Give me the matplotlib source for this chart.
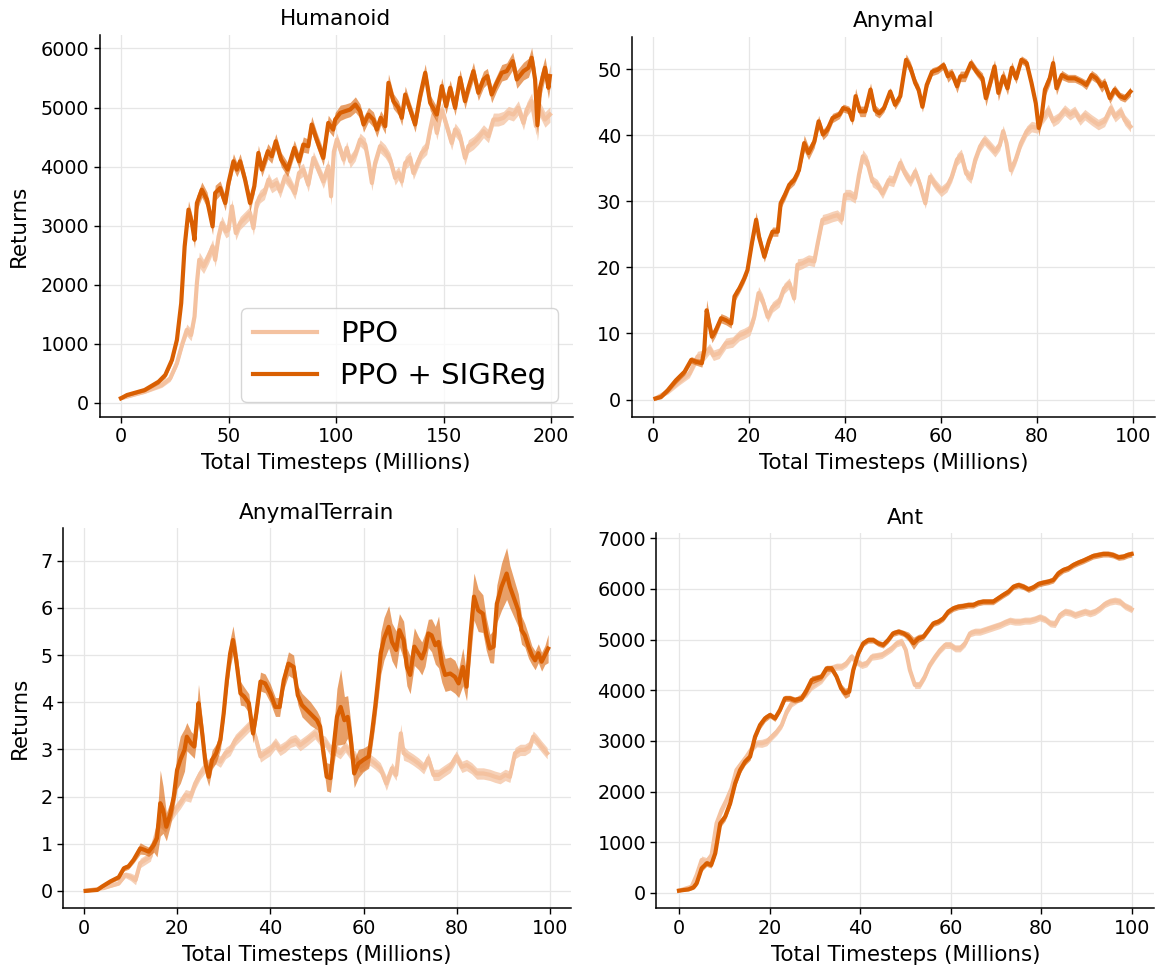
import numpy as np
import matplotlib
matplotlib.use("Agg")
import matplotlib.pyplot as plt

# ---------------- data ----------------
# Humanoid (x: total timesteps in millions)
hum_sig_x = [0, 2.8, 11, 17.5, 20.6, 23.7, 26, 28, 29.6, 31.4,
             33, 34.2, 35.3, 37.6, 40, 42.6, 43.8, 46.1, 48.5, 50,
             52.3, 53.9, 55.4, 57.7, 60, 62, 63.9, 65.5, 68.3, 70.1,
             72, 74.5, 77.5, 80.6, 82.8, 84.8, 87.1, 88.7, 91, 94.1,
             96.4, 98.7, 99.6, 102, 104.3, 106.6, 109, 111.2, 112.8, 115.1,
             117.4, 119, 120.8, 122.9, 124.4, 126.7, 129, 130.6, 132.2, 134.5,
             136.8, 139.1, 141.5, 143.8, 146.9, 149.2, 151.2, 153.1, 155.4, 157.7,
             160, 161.6, 163.9, 166.2, 168.6, 170.4, 172.4, 174.8, 177.1, 179.4,
             182.2, 184.1, 187.2, 189.5, 191, 192.6, 193.7, 194.9, 197.2, 198.8,
             199.5]
hum_sig_y = [75, 130, 215, 356, 470, 724, 1063, 1685, 2647, 3270,
             3043, 2760, 3382, 3608, 3439, 2986, 3552, 3637, 3382, 3722,
             4089, 3948, 4089, 3778, 3382, 3665, 4230, 3948, 4259, 4174,
             4428, 4117, 3948, 4315, 4089, 4372, 4344, 4711, 4457, 4146,
             4739, 4626, 4796, 4910, 4938, 4966, 5051, 4938, 4712, 4881,
             4796, 4627, 4825, 4683, 5418, 5107, 4994, 4825, 5220, 4966,
             4712, 5192, 5588, 5079, 4881, 5362, 5022, 5334, 4994, 5503,
             5107, 5334, 5616, 5249, 5475, 5532, 5220, 5418, 5588, 5616,
             5786, 5475, 5616, 5673, 5843, 5475, 4700, 5334, 5673, 5334,
             5532]
hum_sig_sd = [20, 25, 30, 40, 50, 60, 70, 90, 120, 150,
              140, 140, 130, 130, 130, 140, 130, 120, 130, 120,
              130, 120, 130, 120, 140, 120, 130, 120, 130, 120,
              130, 120, 120, 130, 120, 130, 120, 140, 130, 130,
              130, 120, 120, 130, 120, 120, 130, 120, 130, 120,
              130, 130, 120, 130, 150, 130, 120, 130, 140, 120,
              130, 140, 150, 130, 130, 140, 130, 130, 130, 140,
              130, 130, 150, 130, 140, 130, 140, 130, 140, 140,
              150, 150, 150, 160, 170, 200, 260, 200, 180, 180,
              200]

hum_ppo_x = [0, 11, 19, 22.9, 26, 28.6, 30.6, 32.6, 34.2, 35.3,
             36.4, 38.4, 40.7, 42.6, 43.8, 45.4, 46.9, 48.8, 50, 51.6,
             53.4, 55.4, 57.7, 60, 61.6, 63.2, 64.7, 66.7, 68.6, 70.1,
             72.4, 74, 76.3, 78.6, 80.9, 82.8, 84.8, 87.1, 89.5, 91.8,
             94.1, 96.4, 97.7, 99, 100.4, 102, 103.5, 105, 106.6, 108.9,
             111.2, 113.6, 115.1, 116.7, 118.2, 120.5, 122.9, 125.2, 127.5, 129.1,
             130.6, 132.2, 134.5, 136, 137.9, 139.9, 142.2, 143.8, 145.3, 146.9,
             149.2, 151.5, 153.8, 155.4, 157.7, 160, 161.6, 163.9, 166.2, 168.6,
             170.9, 173.2, 175.5, 177.9, 180.2, 182.5, 184.8, 187.2, 188.7, 191,
             193, 194.9, 197.2, 199.5]
hum_ppo_y = [75, 187, 300, 413, 667, 1007, 1233, 1148, 1459, 2025,
             2421, 2308, 2477, 2647, 2421, 2817, 3043, 2902, 2930, 3326,
             2874, 3043, 3128, 3213, 2958, 3382, 3496, 3552, 3778, 3665,
             3722, 3580, 3835, 3722, 3552, 3891, 3948, 3693, 4146, 3948,
             3750, 4004, 3496, 4250, 4457, 4287, 4118, 4316, 4089, 4203,
             4457, 4372, 4089, 3722, 4061, 4344, 4259, 4118, 3807, 3891,
             3750, 4061, 4146, 3891, 4061, 4231, 4316, 4627, 4881, 4570,
             4966, 4683, 4400, 4627, 4514, 4146, 4344, 4400, 4485, 4598,
             4514, 4796, 4796, 4825, 4910, 4881, 4994, 4740, 4966, 5107,
             4683, 4966, 4796, 4881]
hum_ppo_sd = [20, 30, 40, 50, 60, 80, 100, 100, 120, 150,
              130, 120, 120, 120, 120, 120, 120, 110, 110, 120,
              120, 110, 110, 110, 120, 110, 110, 110, 110, 110,
              110, 110, 110, 110, 110, 110, 110, 120, 110, 110,
              120, 120, 150, 130, 110, 110, 110, 110, 110, 110,
              110, 110, 110, 130, 110, 110, 110, 110, 120, 110,
              110, 110, 110, 110, 110, 110, 110, 120, 120, 120,
              120, 120, 120, 110, 110, 120, 110, 110, 110, 110,
              110, 110, 110, 110, 110, 110, 120, 120, 120, 140,
              150, 130, 130, 130]

# Anymal
any_sig_x = [0.55, 1.7, 3.1, 4.8, 6.6, 8, 9, 10.2, 10.7, 11.2,
             11.6, 12.3, 13, 14.2, 15.2, 16.3, 17, 18, 19, 19.7,
             20.6, 21.5, 22.1, 23.2, 24.2, 24.9, 26, 26.6, 27.5, 28.4,
             29.4, 30.4, 31.5, 32.4, 33.6, 34.5, 35.4, 36.3, 37.4, 38.8,
             39.6, 40.8, 41.5, 42.2, 43.1, 44.2, 45.3, 46.2, 47.1, 48.1,
             49.4, 50.4, 51.5, 52.7, 53.6, 54.6, 55.3, 56.1, 57, 58.1,
             59.3, 60.5, 61.4, 62.2, 63.3, 64, 65, 66.2, 67.4, 68.6,
             69.3, 70.2, 71.1, 71.9, 72.9, 73.8, 74.7, 75.6, 76.7, 77.8,
             78.8, 79.7, 80.3, 80.9, 81.6, 82.6, 83.3, 84, 85.1, 86.4,
             87.8, 89.2, 90.2, 91.3, 92.3, 93.4, 94, 95.1, 96.1, 97.2,
             98.2, 99.4]
any_sig_y = [0.15, 0.4, 1.4, 2.9, 4.2, 6.0, 5.7, 5.5, 7.5, 13.5,
             12.0, 9.5, 10.3, 12.3, 12.0, 11.5, 15.6, 16.8, 18.3, 19.6,
             23.6, 27.2, 24.6, 21.6, 24.1, 25.4, 25.4, 29.7, 31.0, 32.5,
             33.2, 34.7, 38.8, 37.3, 39.0, 42.1, 40.1, 40.8, 42.6, 43.1,
             44.1, 43.8, 42.3, 45.9, 43.6, 43.6, 46.9, 43.8, 43.3, 44.1,
             46.6, 44.6, 45.9, 51.4, 50.2, 47.9, 46.9, 44.3, 47.6, 49.6,
             49.9, 50.6, 48.9, 49.4, 47.4, 48.9, 48.9, 50.9, 49.6, 48.6,
             45.6, 47.9, 50.4, 46.4, 48.9, 47.1, 50.2, 48.6, 51.4, 50.9,
             47.9, 44.8, 41.1, 42.8, 46.9, 48.6, 50.9, 47.1, 49.1, 48.6,
             48.6, 48.1, 47.6, 49.1, 48.6, 47.4, 47.9, 45.6, 46.9, 45.9,
             45.6, 46.6]
any_sig_sd = [0.2, 0.3, 0.4, 0.5, 0.5, 0.5, 0.5, 0.6, 1.0, 1.6,
              1.4, 0.9, 0.8, 0.7, 0.7, 0.7, 0.8, 0.7, 0.7, 0.7,
              0.8, 1.2, 1.0, 0.8, 0.7, 0.7, 0.7, 0.8, 0.8, 0.7,
              0.7, 0.7, 1.2, 1.0, 0.9, 0.9, 0.8, 0.8, 0.7, 0.6,
              0.6, 0.6, 0.8, 1.2, 0.8, 0.8, 1.0, 0.8, 0.7, 0.6,
              0.6, 0.7, 0.7, 0.9, 0.9, 0.8, 0.8, 0.8, 0.7, 0.6,
              0.6, 0.6, 0.9, 0.7, 1.0, 0.8, 0.8, 0.7, 0.7, 0.8,
              1.2, 1.0, 1.0, 1.2, 1.0, 1.0, 0.9, 0.8, 0.6, 0.6,
              0.7, 0.8, 1.2, 1.0, 1.0, 1.0, 1.3, 1.0, 0.7, 0.6,
              0.6, 0.6, 0.7, 0.7, 0.7, 0.9, 0.8, 0.8, 0.7, 0.6,
              0.6, 0.7]

any_ppo_x = [0.55, 3.1, 5.5, 7.6, 9.3, 10.7, 11.8, 12.6, 13.8, 15.2,
             16.6, 18, 19, 20.2, 21.1, 22, 22.8, 23.9, 24.9, 26.3,
             27.3, 28.4, 29.4, 30.1, 31.1, 32.4, 33.6, 34.3, 35.3, 36.3,
             37.4, 38.4, 39.3, 40, 41, 42.1, 42.9, 43.7, 44.6, 45.7,
             46.7, 47.8, 49.1, 50.1, 51.5, 52.5, 53.6, 54.6, 55.6, 56.7,
             57.7, 58.8, 60, 61.2, 62.2, 63.3, 64.2, 65.2, 66.2, 67.1,
             68.1, 69, 70, 71.2, 72.2, 72.9, 73.6, 74.5, 75.5, 76.6,
             77.8, 78.8, 80, 80.9, 82.3, 83.3, 84.4, 85.7, 86.8, 87.8,
             88.9, 89.9, 91.3, 92.7, 94, 95.3, 96.2, 97.4, 98.2, 99.4]
any_ppo_y = [0.15, 1.2, 2.7, 3.9, 6.5, 6.7, 7.7, 6.7, 7.0, 8.5,
             8.7, 9.7, 10.0, 10.5, 12.5, 16.1, 15.1, 12.5, 14.0, 14.8,
             16.8, 17.6, 15.3, 20.4, 20.6, 21.1, 20.9, 23.6, 27.2, 27.4,
             27.7, 27.9, 27.2, 31.0, 31.0, 30.5, 34.0, 36.8, 36.0, 33.0,
             32.5, 31.2, 33.2, 33.0, 35.8, 34.2, 33.0, 34.5, 32.5, 29.7,
             33.7, 32.5, 31.5, 32.2, 33.7, 36.3, 37.0, 34.2, 33.5, 36.3,
             38.3, 39.3, 38.5, 37.5, 38.5, 40.6, 38.8, 34.7, 36.3, 38.8,
             40.6, 41.3, 41.1, 42.3, 43.8, 42.1, 42.6, 43.8, 43.1, 43.6,
             42.3, 43.1, 42.3, 41.6, 42.1, 44.1, 42.8, 43.6, 42.3, 41.3]
any_ppo_sd = [0.2, 0.4, 0.5, 0.6, 0.8, 0.8, 0.8, 0.8, 0.8, 0.8,
              0.8, 0.8, 0.8, 0.8, 0.9, 1.0, 0.9, 0.8, 0.8, 0.8,
              0.8, 0.8, 0.8, 0.9, 0.8, 0.8, 0.8, 0.9, 0.8, 0.8,
              0.8, 0.8, 0.8, 0.8, 0.8, 0.8, 0.9, 1.0, 0.9, 0.8,
              0.8, 0.8, 0.8, 0.8, 0.9, 0.8, 0.8, 0.8, 0.8, 0.8,
              0.8, 0.8, 0.8, 0.8, 0.8, 0.9, 0.9, 0.8, 0.8, 0.8,
              0.8, 0.8, 0.8, 0.8, 0.8, 0.9, 0.8, 0.9, 0.8, 0.8,
              0.8, 0.8, 0.8, 0.8, 0.9, 0.8, 0.8, 0.8, 0.8, 0.8,
              0.8, 0.8, 0.8, 0.8, 0.8, 0.9, 0.8, 0.8, 0.8, 0.8]

# AnymalTerrain
ter_sig_x = [0.4, 2.9, 3.9, 5.7, 7.5, 8.6, 9.6, 10.7, 12.1, 13,
             13.9, 15, 15.7, 16.4, 17, 17.7, 18.6, 19.3, 20, 20.7,
             21.6, 22.1, 23, 23.7, 24.3, 24.6, 25.4, 26.1, 26.8, 27.5,
             28.4, 29.3, 30, 30.7, 31.4, 32, 32.7, 33.6, 34.4, 35.4,
             36.3, 37, 37.9, 38.9, 40, 41.1, 42, 42.9, 43.9, 45,
             45.9, 46.8, 47.9, 48.6, 50, 50.7, 51.4, 52.1, 52.9, 53.6,
             54.3, 55.1, 55.9, 56.6, 57.3, 58, 58.9, 60, 61.1, 61.8,
             62.5, 63.2, 63.7, 64.4, 65.4, 66.1, 67, 67.7, 68.6, 69.3,
             70, 70.9, 71.8, 72.5, 73.2, 73.9, 74.6, 75.4, 76.1, 76.8,
             77.5, 78.6, 79.6, 80.4, 81.3, 82.1, 82.9, 83.7, 84.6, 85.6,
             86.3, 87.1, 87.9, 88.6, 89.6, 90.7, 91.4, 92.3, 93.2, 93.9,
             94.6, 95.4, 96.1, 96.8, 97.5, 98.2, 98.9, 99.6]
ter_sig_y = [0, 0.02, 0.09, 0.2, 0.29, 0.48, 0.52, 0.66, 0.9, 0.87,
             0.83, 0.97, 1.12, 1.86, 1.72, 1.36, 1.65, 2.0, 2.56, 2.78,
             2.99, 3.27, 3.13, 3.06, 3.62, 3.98, 3.34, 2.7, 2.42, 2.78,
             2.92, 3.2, 3.76, 4.47, 5.04, 5.32, 4.89, 4.19, 4.12, 3.98,
             3.34, 3.76, 4.44, 4.4, 4.19, 3.9, 3.9, 4.47, 4.82, 4.75,
             4.15, 3.94, 3.83, 3.76, 3.62, 3.48, 2.92, 2.42, 2.39, 3.06,
             3.69, 3.9, 3.62, 3.69, 3.2, 2.49, 2.7, 2.78, 2.85, 3.34,
             3.9, 4.54, 5.04, 5.35, 5.6, 5.28, 5.11, 5.53, 5.32, 4.75,
             4.58, 5.18, 5.04, 4.93, 5.11, 5.46, 5.42, 5.21, 5.28, 4.82,
             4.58, 4.61, 4.54, 4.4, 4.75, 4.33, 5.39, 6.24, 5.95, 5.88,
             5.46, 5.14, 5.18, 6.09, 6.45, 6.73, 6.45, 6.2, 5.95, 5.53,
             5.42, 5.18, 5.0, 4.89, 5.04, 4.86, 5.0, 5.14]
ter_sig_sd = [0.02, 0.02, 0.03, 0.04, 0.05, 0.06, 0.06, 0.07, 0.12, 0.1,
              0.1, 0.15, 0.4, 0.7, 0.5, 0.3, 0.25, 0.25, 0.4, 0.5,
              0.45, 0.3, 0.25, 0.25, 0.35, 0.4, 0.3, 0.25, 0.2, 0.2,
              0.2, 0.2, 0.2, 0.25, 0.3, 0.3, 0.3, 0.25, 0.2, 0.2,
              0.2, 0.2, 0.2, 0.2, 0.2, 0.2, 0.2, 0.2, 0.25, 0.25,
              0.2, 0.25, 0.25, 0.25, 0.2, 0.2, 0.25, 0.3, 0.3, 0.4,
              0.6, 0.8, 0.5, 0.45, 0.35, 0.3, 0.3, 0.25, 0.25, 0.3,
              0.35, 0.4, 0.45, 0.45, 0.45, 0.4, 0.4, 0.35, 0.4, 0.4,
              0.4, 0.4, 0.35, 0.35, 0.35, 0.3, 0.35, 0.4, 0.55, 0.4,
              0.35, 0.35, 0.35, 0.3, 0.4, 0.3, 0.5, 0.5, 0.45, 0.4,
              0.35, 0.3, 0.35, 0.4, 0.5, 0.55, 0.45, 0.4, 0.35, 0.3,
              0.25, 0.25, 0.2, 0.2, 0.2, 0.2, 0.2, 0.3]

ter_ppo_x = [0.4, 4.3, 7.5, 8.9, 10, 11.1, 12.1, 13.2, 14.3, 15.4,
             16.4, 17.5, 18.6, 19.6, 20.7, 21.8, 22.9, 23.9, 25, 26.1,
             27.1, 28.2, 29.3, 30.4, 31.4, 32.5, 33.6, 34.6, 35.7, 36.8,
             37.9, 38.9, 40, 41.1, 42.1, 43.2, 44.3, 45.4, 46.4, 47.9,
             49.6, 50.7, 51.8, 52.9, 53.9, 55, 56.1, 57.1, 58.2, 59.3,
             60.4, 61.4, 62.5, 63.6, 64.9, 66.1, 67, 68, 68.6, 69.6,
             70.7, 71.8, 72.9, 73.9, 75, 76.1, 77.1, 78.6, 79.9, 81.1,
             82.1, 83.2, 84.3, 85.7, 87.1, 88.2, 89.3, 90.4, 91.4, 92.5,
             93.6, 94.6, 95.7, 96.4, 97.1, 98.2, 99.4]
ter_ppo_y = [0, 0.06, 0.16, 0.34, 0.3, 0.23, 0.59, 0.66, 0.73, 1.15,
             1.5, 1.36, 1.57, 1.72, 1.86, 2.03, 2.0, 2.28, 2.49, 2.63,
             2.7, 2.81, 2.74, 2.92, 2.99, 3.2, 3.31, 3.41, 3.52, 3.27,
             2.85, 2.92, 2.99, 3.13, 2.99, 3.06, 3.16, 3.2, 3.09, 3.2,
             3.34, 3.2, 3.16, 2.99, 2.99, 2.92, 3.06, 2.92, 2.85, 2.63,
             2.7, 2.78, 2.7, 2.6, 2.28, 2.6, 2.46, 3.34, 2.92, 2.85,
             2.78, 2.7, 2.6, 2.81, 2.46, 2.46, 2.53, 2.63, 2.85, 2.63,
             2.67, 2.6, 2.49, 2.49, 2.46, 2.42, 2.39, 2.46, 2.42, 2.92,
             2.99, 2.99, 3.06, 3.27, 3.2, 3.06, 2.92]
ter_ppo_sd = [0.01, 0.02, 0.04, 0.06, 0.08, 0.1, 0.1, 0.1, 0.1, 0.12,
              0.15, 0.12, 0.12, 0.12, 0.12, 0.12, 0.12, 0.12, 0.12, 0.12,
              0.12, 0.12, 0.12, 0.12, 0.12, 0.12, 0.12, 0.12, 0.12, 0.12,
              0.12, 0.12, 0.12, 0.12, 0.12, 0.12, 0.12, 0.12, 0.12, 0.12,
              0.12, 0.12, 0.12, 0.12, 0.12, 0.12, 0.12, 0.12, 0.12, 0.12,
              0.12, 0.12, 0.12, 0.12, 0.15, 0.12, 0.12, 0.2, 0.15, 0.12,
              0.12, 0.12, 0.12, 0.12, 0.12, 0.12, 0.12, 0.12, 0.12, 0.12,
              0.12, 0.12, 0.12, 0.12, 0.12, 0.12, 0.12, 0.12, 0.12, 0.12,
              0.12, 0.12, 0.12, 0.12, 0.12, 0.12, 0.12]

# Ant
ant_sig_x = [0, 2.1, 3.2, 3.9, 5, 6.1, 7.1, 8, 9.1, 10.2,
             11.3, 12.4, 13.5, 14.6, 15.7, 16.8, 17.9, 19, 20.1, 21.2,
             22.3, 23.4, 24.5, 25.6, 27.1, 28.2, 29.3, 30.4, 31.5, 32.6,
             33.7, 34.8, 35.8, 36.7, 37.6, 38.5, 39.6, 40.7, 41.8, 42.9,
             44, 45.1, 46.2, 47.3, 48.5, 49.6, 50.7, 51.8, 52.9, 54,
             55.1, 56.2, 57.3, 58.4, 59.5, 60.6, 61.7, 62.8, 63.9, 65,
             66.1, 67.2, 68.3, 69.4, 70.5, 71.6, 72.8, 73.9, 75, 76.1,
             77.2, 78.3, 79.4, 80.5, 81.6, 82.7, 83.8, 84.9, 86, 87.1,
             88.2, 89.3, 90.4, 91.5, 92.6, 93.7, 94.8, 95.9, 97.1, 98.2,
             99.1, 100]
ant_sig_y = [46, 72, 112, 191, 487, 586, 553, 783, 1375, 1507,
             1770, 2164, 2428, 2592, 2691, 3086, 3316, 3447, 3513, 3447,
             3612, 3842, 3842, 3809, 3842, 4007, 4204, 4237, 4270, 4434,
             4434, 4270, 4039, 3941, 3974, 4401, 4730, 4928, 4993, 4993,
             4928, 4895, 4993, 5125, 5158, 5125, 5059, 4928, 5026, 5059,
             5191, 5322, 5355, 5421, 5553, 5618, 5651, 5664, 5684, 5684,
             5730, 5750, 5750, 5750, 5816, 5882, 5947, 6046, 6079, 6046,
             5993, 6033, 6099, 6125, 6145, 6178, 6309, 6375, 6408, 6474,
             6520, 6559, 6605, 6651, 6671, 6691, 6691, 6671, 6625, 6638,
             6671, 6691]
ant_sig_sd = [20, 30, 40, 50, 60, 60, 60, 70, 80, 80,
              80, 80, 70, 70, 70, 80, 80, 70, 60, 60,
              60, 60, 60, 60, 60, 80, 80, 70, 60, 60,
              60, 70, 90, 100, 90, 80, 70, 60, 60, 60,
              60, 60, 60, 60, 60, 60, 90, 120, 80, 60,
              60, 60, 60, 60, 60, 60, 60, 60, 60, 60,
              60, 60, 60, 60, 60, 60, 60, 60, 60, 60,
              60, 60, 60, 60, 60, 60, 70, 60, 60, 60,
              60, 60, 60, 60, 60, 60, 60, 60, 60, 60,
              60, 60]

ant_ppo_x = [0, 2.8, 3.9, 5, 6.1, 7.2, 8.3, 9.4, 10.5, 11.6,
             12.7, 13.8, 14.9, 16.1, 17.2, 18.3, 19.4, 20.5, 21.6, 22.7,
             23.8, 24.9, 26, 27.1, 28.2, 29.3, 30.4, 31.5, 32.6, 33.7,
             34.8, 35.9, 37, 38.1, 39.2, 40.4, 41.5, 42.6, 43.7, 44.8,
             45.9, 47, 48.1, 49.2, 50.1, 51, 52.1, 53.2, 54.3, 55.4,
             56.6, 57.7, 58.8, 59.9, 61, 62.1, 63.2, 64.3, 65.4, 66.5,
             67.6, 68.7, 69.8, 70.9, 72, 73.1, 74.2, 75.3, 76.4, 77.5,
             78.6, 79.7, 80.9, 82, 83.1, 84.2, 85.3, 86.4, 87.5, 88.6,
             89.7, 90.8, 91.9, 93, 94.1, 95.2, 96.3, 97.4, 98.5, 100]
ant_ppo_y = [46, 125, 355, 651, 618, 750, 1375, 1638, 1836, 2066,
             2428, 2559, 2691, 2855, 2954, 2954, 2987, 3086, 3184, 3316,
             3579, 3743, 3809, 3875, 3941, 4072, 4138, 4204, 4336, 4434,
             4467, 4467, 4533, 4664, 4566, 4500, 4533, 4664, 4678, 4697,
             4763, 4829, 4928, 4961, 4796, 4401, 4105, 4105, 4270, 4500,
             4664, 4796, 4895, 4895, 4829, 4829, 4928, 5125, 5158, 5158,
             5191, 5224, 5257, 5289, 5336, 5375, 5355, 5355, 5375, 5375,
             5401, 5441, 5401, 5322, 5309, 5487, 5553, 5533, 5487, 5520,
             5553, 5520, 5553, 5618, 5704, 5750, 5770, 5750, 5664, 5599]
ant_ppo_sd = [20, 40, 60, 80, 80, 80, 90, 90, 90, 80,
              80, 80, 70, 70, 70, 80, 80, 70, 70, 70,
              70, 70, 70, 70, 70, 70, 70, 70, 70, 70,
              70, 70, 70, 70, 70, 70, 70, 70, 70, 70,
              70, 70, 70, 70, 70, 70, 70, 70, 70, 70,
              70, 70, 70, 70, 70, 70, 70, 70, 70, 70,
              70, 70, 70, 70, 70, 70, 70, 70, 70, 70,
              70, 70, 70, 70, 70, 70, 70, 70, 70, 70,
              70, 70, 70, 70, 70, 70, 70, 70, 70, 70]

panels = [
    ("Humanoid", (hum_ppo_x, hum_ppo_y, hum_ppo_sd), (hum_sig_x, hum_sig_y, hum_sig_sd)),
    ("Anymal", (any_ppo_x, any_ppo_y, any_ppo_sd), (any_sig_x, any_sig_y, any_sig_sd)),
    ("AnymalTerrain", (ter_ppo_x, ter_ppo_y, ter_ppo_sd), (ter_sig_x, ter_sig_y, ter_sig_sd)),
    ("Ant", (ant_ppo_x, ant_ppo_y, ant_ppo_sd), (ant_sig_x, ant_sig_y, ant_sig_sd)),
]
series_labels = ["PPO", "PPO + SIGReg"]

# ---------------- style ----------------
DARK = "#d95f02"
LIGHT = "#f4c2a0"
W, H = 1156, 967

# axes boxes in pixels: (left, top, right, bottom)
boxes = [(99.5, 35, 572.5, 416.7),
         (631.7, 36.7, 1155, 416.7),
         (63.3, 528.3, 570.5, 908.3),
         (656.4, 533.3, 1154.3, 908.3)]
limits = [((-10, 210), (-237, 6228)),
          ((-4.4, 104.5), (-2.6, 54.9)),
          ((-4.4, 104.4), (-0.37, 7.69)),
          ((-5, 105), (-302, 7099))]
ytick_sets = [[0, 1000, 2000, 3000, 4000, 5000, 6000],
              [0, 10, 20, 30, 40, 50],
              [0, 1, 2, 3, 4, 5, 6, 7],
              [0, 1000, 2000, 3000, 4000, 5000, 6000, 7000]]
xtick_sets = [[0, 50, 100, 150, 200],
              [0, 20, 40, 60, 80, 100],
              [0, 20, 40, 60, 80, 100],
              [0, 20, 40, 60, 80, 100]]

plt.rcParams["font.family"] = ["DejaVu Sans"]
fig = plt.figure(figsize=(W / 100, H / 100), dpi=100)

for i, (title, ppo, sig) in enumerate(panels):
    l, t, r, b = boxes[i]
    ax = fig.add_axes([l / W, 1 - b / H, (r - l) / W, (b - t) / H])

    for (xs, ys, sd), line_c, band_a, lw, z, lab in [
        (ppo, LIGHT, 0.75, 3.0, 2, series_labels[0]),
        (sig, DARK, 0.6, 3.0, 3, series_labels[1]),
    ]:
        xs = np.asarray(xs, float)
        ys = np.asarray(ys, float)
        sd = np.asarray(sd, float)
        ax.fill_between(xs, ys - sd, ys + sd, color=line_c, alpha=band_a,
                        linewidth=0, zorder=z)
        ax.plot(xs, ys, color=line_c, lw=lw, zorder=z + 0.5, label=lab,
                solid_joinstyle="round")

    ax.set_xlim(*limits[i][0])
    ax.set_ylim(*limits[i][1])
    ax.set_xticks(xtick_sets[i])
    ax.set_yticks(ytick_sets[i])
    ax.tick_params(labelsize=13.8, length=4, width=1)
    ax.grid(True, color="#e6e6e6", linewidth=0.9)
    ax.set_axisbelow(True)
    for s in ("top", "right"):
        ax.spines[s].set_visible(False)
    for s in ("left", "bottom"):
        ax.spines[s].set_linewidth(1.1)
    ax.set_title(title, fontsize=15.6, pad=7)
    ax.set_xlabel("Total Timesteps (Millions)", fontsize=15.4, labelpad=5)
    if i % 2 == 0:
        ax.set_ylabel("Returns", fontsize=15.4, labelpad=8)
    if i == 0:
        ax.legend(loc="lower right", fontsize=21, framealpha=0.8,
                  handlelength=2.2)

fig.savefig("out.png", dpi=100)
